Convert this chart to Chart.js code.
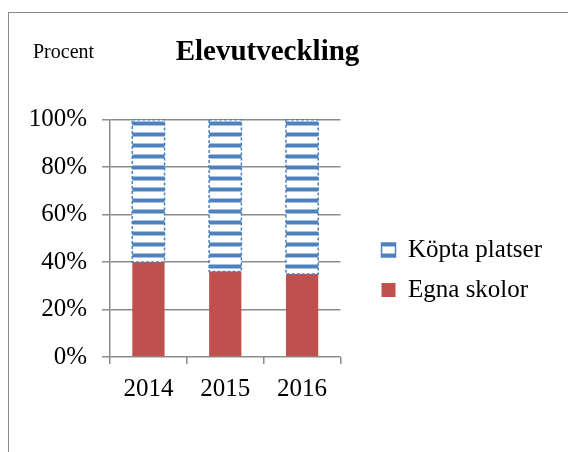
<!DOCTYPE html>
<html>
<head>
<meta charset="utf-8">
<script src="https://cdn.jsdelivr.net/npm/chart.js"></script>
<style>
body { margin: 0; background: #fff; }
#frame { position: absolute; left: 8px; top: 12px; width: 600px; height: 500px; border-left: 1.5px solid #8c8c8c; border-top: 1.5px solid #8c8c8c; }
#wrap { position: absolute; left: 0; top: 0; width: 568px; height: 452px; }
</style>
</head>
<body>
<div id="frame"></div>
<div id="wrap"><canvas id="myChart" width="568" height="452"></canvas></div>
<script>
// data
var years = ['2014', '2015', '2016']
var egnaSkolor = [40, 36, 35]
var koptaPlatser = [60, 64, 65]
var yTickStep = 20

var serif = '"Liberation Serif", "Times New Roman", serif'
var gridColor = '#8c8c8c'

// horizontal blue stripes on white, like the Excel pattern fill
function stripePattern(ctx) {
    let c = document.createElement('canvas')
    c.width = 4
    c.height = 11
    let p = c.getContext('2d')
    p.fillStyle = '#ffffff'
    p.fillRect(0, 0, 4, 11)
    p.fillStyle = '#a9c1e0'
    p.fillRect(0, 0, 4, 5)
    p.fillStyle = '#4f81bd'
    p.fillRect(0, 1, 4, 3)
    return ctx.createPattern(c, 'repeat')
}

// dashed outline round the striped bars
const dashBorder = {
    id: 'dashBorder',
    afterDatasetsDraw(chart) {
        let ctx = chart.ctx
        let meta = chart.getDatasetMeta(1)
        ctx.save()
        ctx.strokeStyle = '#4f81bd'
        ctx.lineWidth = 1.5
        ctx.setLineDash([3, 2])
        meta.data.forEach(bar => {
            ctx.strokeRect(bar.x - bar.width / 2, bar.y, bar.width, bar.base - bar.y)
        })
        ctx.restore()
    }
}

// the small "Procent" label top left
const procentLabel = {
    id: 'procentLabel',
    afterDraw(chart) {
        let ctx = chart.ctx
        ctx.save()
        ctx.font = '20px ' + serif
        ctx.fillStyle = '#000'
        ctx.textBaseline = 'alphabetic'
        ctx.fillText('Procent', 33, 58)
        ctx.restore()
    }
}

// the layout caps a side legend at a quarter of the width, let it be wider,
// and move it down next to the middle of the bars
const wideLegend = {
    id: 'wideLegend',
    afterInit(chart) {
        let legend = chart.legend
        let update = legend.update
        legend.update = function (maxWidth, maxHeight, margins) {
            return update.call(this, 300, maxHeight, margins)
        }
    },
    afterLayout(chart) {
        chart.legend.top += 44
        chart.legend.bottom += 44
    }
}

let ctx = document.getElementById('myChart').getContext('2d')
let myChart = new Chart(ctx, {
    type: 'bar',
    data: {
        labels: years,
        datasets: [{
            label: 'Egna skolor',
            data: egnaSkolor,
            backgroundColor: '#c0504d',
            borderWidth: 0
        }, {
            label: 'Köpta platser',
            data: koptaPlatser,
            backgroundColor: stripePattern(ctx),
            borderWidth: 0
        }]
    },
    options: {
        responsive: false,
        animation: false,
        barPercentage: 0.42,
        categoryPercentage: 1,
        layout: { padding: { left: -17, right: 16, top: 0, bottom: 0 } },
        plugins: {
            title: {
                display: true,
                text: 'Elevutveckling',
                color: '#000',
                font: { family: serif, size: 29, weight: 'bold' },
                padding: { top: 35.5, bottom: 16.5 }
            },
            legend: {
                position: 'right',
                reverse: true,
                labels: {
                    color: '#000',
                    font: { family: serif, size: 25 },
                    boxWidth: 14,
                    boxHeight: 14,
                    padding: 15,
                    generateLabels(chart) {
                        let items = Chart.defaults.plugins.legend.labels.generateLabels(chart)
                        items.forEach(it => {
                            if (it.datasetIndex === 1) {
                                it.lineWidth = 1.5
                                it.strokeStyle = '#4f81bd'
                            }
                        })
                        return items
                    }
                }
            },
            tooltip: { enabled: false }
        },
        scales: {
            x: {
                stacked: true,
                grid: { offset: true, drawOnChartArea: false, tickLength: 7, color: gridColor, lineWidth: 1.5 },
                border: { display: false },
                ticks: { color: '#000', font: { family: serif, size: 25 }, padding: 10 },
                afterFit(s) { s.height = 95 }
            },
            y: {
                stacked: true,
                min: 0,
                max: 100,
                grid: { color: gridColor, lineWidth: 1.5, tickLength: 8 },
                border: { display: true, color: gridColor, width: 1.5 },
                ticks: {
                    stepSize: yTickStep,
                    color: '#000',
                    font: { family: serif, size: 25 },
                    padding: 15,
                    callback: v => v + '%'
                },
                afterFit(s) { s.width = 127 }
            },
            // empty axes only used to keep room round the plot
            x2: {
                type: 'category',
                position: 'top',
                grid: { display: false },
                border: { display: false },
                ticks: { display: false },
                afterFit(s) { s.height = 33 }
            },
            y2: {
                type: 'linear',
                position: 'right',
                grid: { display: false },
                border: { display: false },
                ticks: { display: false },
                afterFit(s) { s.width = 26 }
            }
        }
    },
    plugins: [dashBorder, procentLabel, wideLegend]
})
myChart.update()
</script>
</body>
</html>
